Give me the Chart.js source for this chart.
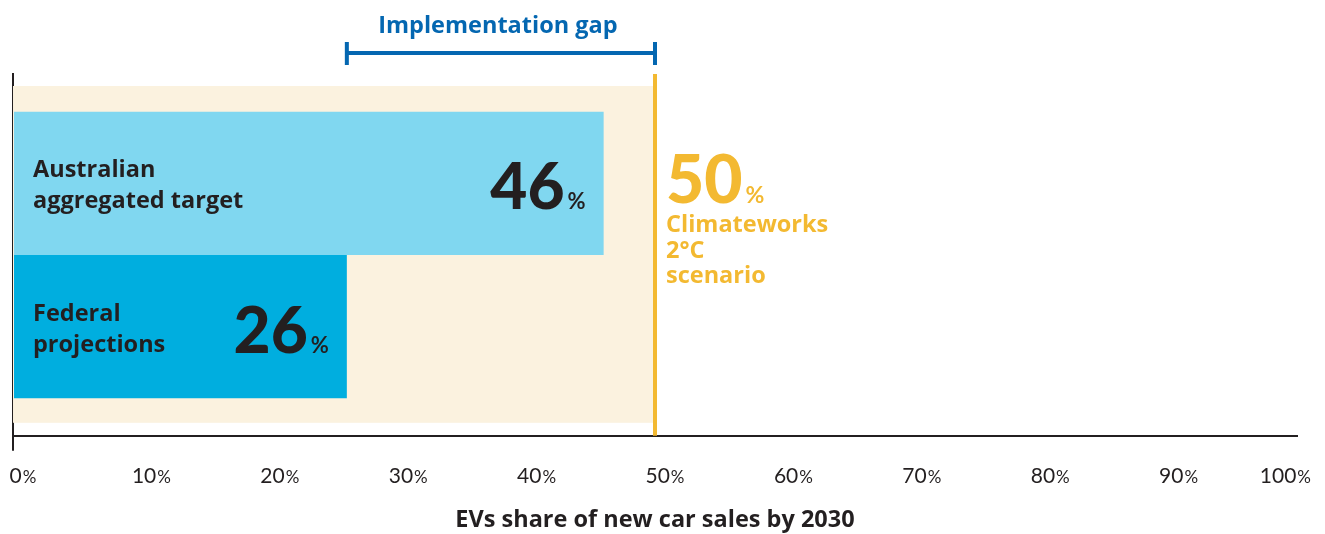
<!DOCTYPE html>
<html>
<head>
<meta charset="utf-8">
<script src="https://cdn.jsdelivr.net/npm/chart.js@4.4.1/dist/chart.umd.min.js"></script>
<style>
  body { margin: 0; background: #ffffff; }
  #wrap { width: 1325px; height: 534px; position: relative; }
</style>
</head>
<body>
<div id="wrap"><canvas id="evChart"></canvas></div>
<script>
// data
const categories = ['Australian aggregated target', 'Federal projections'];
const categoryLines = [['Australian', 'aggregated target'], ['Federal', 'projections']];
const shares = [46, 26];
const barColors = ['#80D7F0', '#00AEDF'];
const scenarioShare = 50;
const scenarioLines = ['Climateworks', '2°C', 'scenario'];
const gapLabel = 'Implementation gap';
const tickValues = [0, 10, 20, 30, 40, 50, 60, 70, 80, 90, 100];
const axisTitle = 'EVs share of new car sales by 2030';

const DARK = '#231F20';
const YELLOW = '#F3B931';
const BLUE = '#0467B1';
const CREAM = '#FBF2DF';
const FONT = '"Open Sans", Lato, sans-serif';
const NUM_FONT = 'Lato, "Open Sans", sans-serif';
const LABEL_SIZE = 23.5;

// cream band behind the bars + 50% marker line
const scenarioBand = {
  id: 'scenarioBand',
  beforeDatasetsDraw(chart) {
    const { ctx, chartArea, scales } = chart;
    const x0 = scales.x.getPixelForValue(0);
    const x1 = scales.x.getPixelForValue(scenarioShare);
    ctx.save();
    ctx.fillStyle = CREAM;
    ctx.fillRect(x0, chartArea.top + 12, x1 - x0, chartArea.bottom - chartArea.top - 25);
    ctx.restore();
  },
  afterDatasetsDraw(chart) {
    const { ctx, chartArea, scales } = chart;
    const x = scales.x.getPixelForValue(scenarioShare);
    ctx.save();
    ctx.strokeStyle = YELLOW;
    ctx.lineWidth = 4;
    ctx.beginPath();
    ctx.moveTo(x, chartArea.top);
    ctx.lineTo(x, chartArea.bottom);
    ctx.stroke();

    // 50% label and scenario name
    const top = chartArea.top;
    ctx.fillStyle = YELLOW;
    ctx.textBaseline = 'alphabetic';
    ctx.textAlign = 'left';
    ctx.font = '900 66px ' + NUM_FONT;
    const num = String(scenarioShare);
    ctx.fillText(num, x + 11, top + 129);
    const w = ctx.measureText(num).width;
    ctx.font = 'bold 23px ' + NUM_FONT;
    ctx.fillText('%', x + 14 + w, top + 129);
    ctx.font = 'bold ' + LABEL_SIZE + 'px ' + FONT;
    scenarioLines.forEach((line, i) => {
      ctx.fillText(line, x + 11, top + 158 + i * 25.5);
    });
    ctx.restore();
  }
};

// labels inside the bars
const barLabels = {
  id: 'barLabels',
  afterDatasetsDraw(chart) {
    const { ctx, chartArea } = chart;
    ctx.save();
    ctx.fillStyle = DARK;
    ctx.textBaseline = 'alphabetic';
    chart.data.datasets.forEach((ds, i) => {
      const bar = chart.getDatasetMeta(i).data[0];
      if (!bar) return;
      const cy = bar.y;
      ctx.textAlign = 'left';
      ctx.font = 'bold ' + LABEL_SIZE + 'px ' + FONT;
      ctx.fillText(categoryLines[i][0], chartArea.left + 20, cy - 6);
      ctx.fillText(categoryLines[i][1], chartArea.left + 20, cy + 25);

      ctx.textAlign = 'right';
      const right = bar.x - 18;
      ctx.font = 'bold 22px ' + NUM_FONT;
      ctx.fillText('%', right, cy + 26);
      const pw = ctx.measureText('%').width;
      ctx.font = '900 64px ' + NUM_FONT;
      ctx.fillText(String(ds.data[0]), right - pw - 3, cy + 26);
    });
    ctx.restore();
  }
};

// bracket between federal projection and scenario
const gapBracket = {
  id: 'gapBracket',
  afterDraw(chart) {
    const { ctx, scales } = chart;
    const x0 = scales.x.getPixelForValue(shares[1]);
    const x1 = scales.x.getPixelForValue(scenarioShare);
    const y = 53;
    ctx.save();
    ctx.strokeStyle = BLUE;
    ctx.lineWidth = 4;
    ctx.beginPath();
    ctx.moveTo(x0, y);
    ctx.lineTo(x1, y);
    ctx.moveTo(x0, 42);
    ctx.lineTo(x0, 65);
    ctx.moveTo(x1, 42);
    ctx.lineTo(x1, 65);
    ctx.stroke();
    ctx.fillStyle = BLUE;
    ctx.font = 'bold ' + LABEL_SIZE + 'px ' + FONT;
    ctx.textAlign = 'center';
    ctx.textBaseline = 'alphabetic';
    ctx.fillText(gapLabel, (x0 + x1) / 2 - 3, 33);
    ctx.restore();
  }
};

// x tick labels with a smaller % sign
const tickLabels = {
  id: 'tickLabels',
  afterDraw(chart) {
    const { ctx, scales } = chart;
    ctx.save();
    ctx.fillStyle = DARK;
    ctx.textAlign = 'left';
    ctx.textBaseline = 'alphabetic';
    tickValues.forEach(v => {
      const cx = scales.x.getPixelForValue(v) + 10;
      ctx.font = '21px ' + NUM_FONT;
      const nw = ctx.measureText(String(v)).width;
      ctx.font = '17px ' + NUM_FONT;
      const pw = ctx.measureText('%').width;
      let left = cx - (nw + pw + 1) / 2;
      if (left + nw + pw + 1 > chart.width - 14) left = chart.width - 14 - nw - pw - 1;
      ctx.font = '21px ' + NUM_FONT;
      ctx.fillText(String(v), left, 483);
      ctx.font = '17px ' + NUM_FONT;
      ctx.fillText('%', left + nw + 1, 483);
    });
    ctx.restore();
  }
};

const ctx = document.getElementById('evChart');

new Chart(ctx, {
  type: 'bar',
  data: {
    labels: ['2030'],
    datasets: categories.map((name, i) => ({
      label: name,
      data: [shares[i]],
      backgroundColor: barColors[i],
      borderWidth: 0,
      barPercentage: 1,
      categoryPercentage: 0.792
    }))
  },
  options: {
    indexAxis: 'y',
    responsive: true,
    maintainAspectRatio: false,
    animation: false,
    layout: { padding: { left: 13, right: 28, top: 74, bottom: 0 } },
    plugins: {
      legend: { display: false },
      tooltip: { enabled: false }
    },
    scales: {
      x: {
        type: 'linear',
        min: 0,
        max: 100,
        ticks: { display: false, stepSize: 10 },
        grid: {
          drawOnChartArea: false,
          drawTicks: true,
          tickLength: 15,
          lineWidth: 2,
          color: c => (c.tick && c.tick.value === 0 ? DARK : 'rgba(0,0,0,0)')
        },
        border: { display: true, color: DARK, width: 2 },
        title: {
          display: true,
          text: axisTitle,
          color: DARK,
          font: { family: FONT, size: LABEL_SIZE, weight: 'bold' },
          padding: { top: 55, bottom: 0 }
        }
      },
      y: {
        ticks: { display: false },
        grid: { display: false, drawTicks: false },
        border: { display: true, color: DARK, width: 2 }
      }
    }
  },
  plugins: [scenarioBand, barLabels, gapBracket, tickLabels]
});
</script>
</body>
</html>
